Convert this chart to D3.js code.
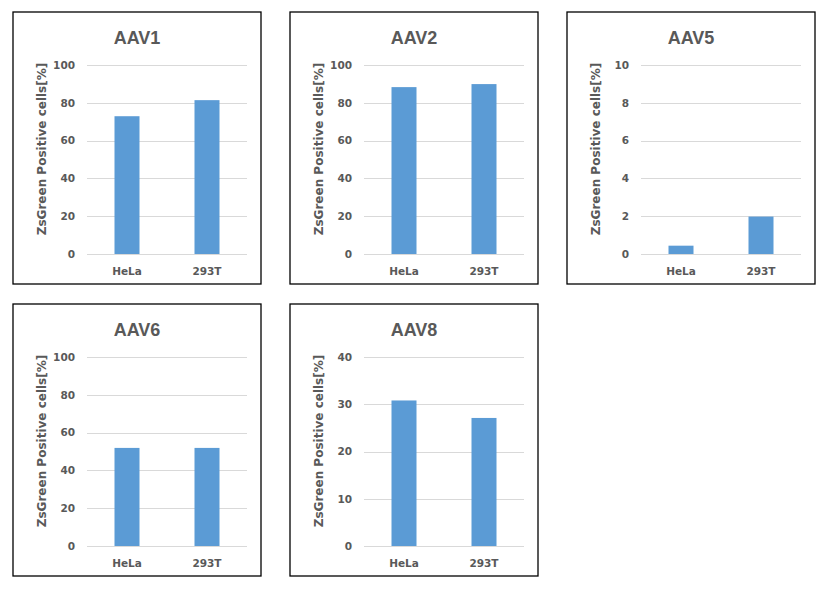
<!DOCTYPE html>
<html><head><meta charset="utf-8">
<script src="https://cdn.jsdelivr.net/npm/d3@7"></script>
<style>body{margin:0;background:#fff;} svg{display:block;}</style>
</head><body>
<svg id="chart" width="831" height="593"></svg>
<script>
const categories = ["HeLa", "293T"];
const titles = ["AAV1", "AAV2", "AAV5", "AAV6", "AAV8"];
const aav1 = [72.9, 81.4];
const aav2 = [88.3, 89.9];
const aav5 = [0.44, 1.98];
const aav6 = [51.9, 51.9];
const aav8 = [30.8, 27.1];
const yMax = [100, 100, 10, 100, 40];
const yStep = [20, 20, 2, 20, 10];
const yLabel = "ZsGreen Positive cells[%]";
const seriesList = [aav1, aav2, aav5, aav6, aav8];

const panelPos = [[13,12],[290,12],[567,12],[13,304],[290,304]];
const W = 248, H = 272;
const plot = {left:74, right:234, top:53, bottom:242};
const svg = d3.select("#chart");
const font = "'DejaVu Sans', Verdana, sans-serif";
const titleFont = "'Liberation Sans', Arial, sans-serif";
const grey = "#595959";

seriesList.forEach((vals, i) => {
  const g = svg.append("g").attr("transform", `translate(${panelPos[i][0]},${panelPos[i][1]})`);
  g.append("rect").attr("x",0).attr("y",0).attr("width",W).attr("height",H)
    .attr("fill","#fff").attr("stroke","#000").attr("stroke-width",1.3);
  const x = d3.scaleBand().domain(categories).range([plot.left, plot.right]).paddingInner(0.6875).paddingOuter(0.34375);
  const y = d3.scaleLinear().domain([0, yMax[i]]).range([plot.bottom, plot.top]);
  const ticks = d3.range(0, yMax[i] + yStep[i]/2, yStep[i]);
  // gridlines
  g.append("g").selectAll("line").data(ticks).join("line")
    .attr("x1", plot.left).attr("x2", plot.right)
    .attr("y1", d => Math.round(y(d))+0.5).attr("y2", d => Math.round(y(d))+0.5)
    .attr("stroke","#d9d9d9").attr("stroke-width",1);
  // y axis labels
  const ya = g.append("g").attr("transform",`translate(${plot.left},0)`)
    .call(d3.axisLeft(y).tickValues(ticks).tickSize(0).tickPadding(12));
  ya.select(".domain").remove();
  ya.selectAll("text").attr("font-family", font).attr("font-size", 10.5).attr("font-weight","bold").attr("fill", grey);
  // bars
  g.append("g").selectAll("rect").data(vals).join("rect")
    .attr("x", (d,j) => x(categories[j])).attr("width", x.bandwidth())
    .attr("y", d => y(d)).attr("height", d => plot.bottom - y(d))
    .attr("fill", "#5b9bd5");
  // x axis labels
  const xa = g.append("g").attr("transform",`translate(0,${plot.bottom})`)
    .call(d3.axisBottom(x).tickSize(0).tickPadding(14));
  xa.select(".domain").remove();
  xa.selectAll("text").attr("font-family", font).attr("font-size", 10.5).attr("font-weight","bold").attr("fill", grey);
  // title
  g.append("text").attr("x", W/2).attr("y", 32).attr("text-anchor","middle")
    .attr("font-family", titleFont).attr("font-size", 18).attr("font-weight","bold").attr("fill", grey)
    .text(titles[i]);
  // y label
  g.append("text").attr("transform", `translate(33,137) rotate(-90)`).attr("text-anchor","middle")
    .attr("font-family", font).attr("font-size", 12).attr("font-weight","bold").attr("fill", grey)
    .text(yLabel);
});
</script>
</body></html>
